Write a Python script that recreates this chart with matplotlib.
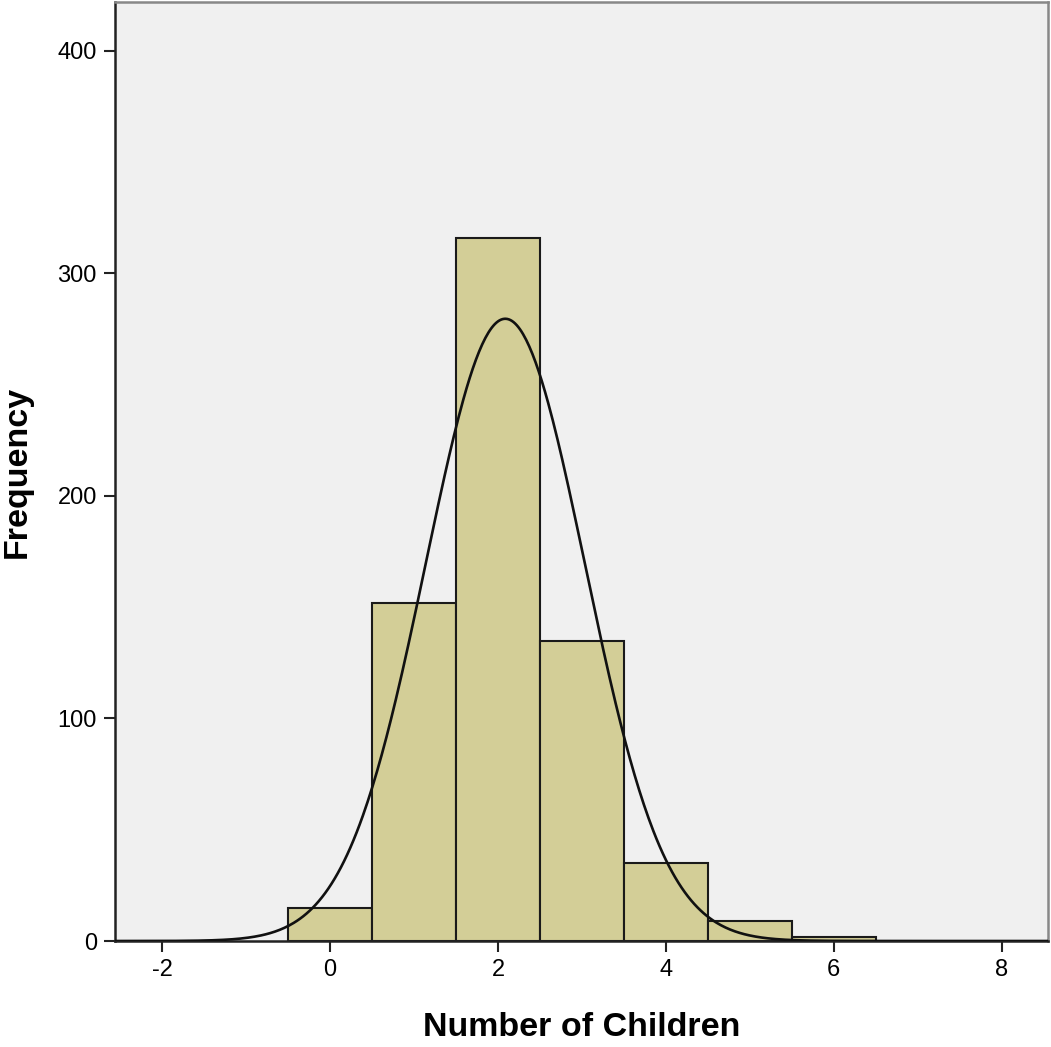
import numpy as np
import matplotlib
matplotlib.use("Agg")
import matplotlib.pyplot as plt

plt.rcParams['font.family'] = ['Liberation Sans', 'DejaVu Sans']
plt.rcParams['axes.unicode_minus'] = False

# Histogram data: number of children (bin centres) and counts
children = [0, 1, 2, 3, 4, 5, 6]
counts = [15, 152, 316, 135, 35, 9, 2]

x_ticks = [-2, 0, 2, 4, 6, 8]
y_ticks = [0, 100, 200, 300, 400]

# normal curve fitted from the histogram
vals = np.repeat(children, counts)
n = len(vals)
mu = vals.mean()
sd = vals.std(ddof=1)

fig = plt.figure(figsize=(10.51, 10.47), dpi=100)
ax = fig.add_axes([115 / 1051, 106 / 1047, 933 / 1051, 939 / 1047])
ax.set_facecolor('#f0f0f0')

ax.bar(children, counts, width=1.0, color='#d3ce97', edgecolor='#1a1a1a', linewidth=1.5, zorder=2)

xs = np.linspace(-2.6, 8.6, 600)
ys = n * np.exp(-0.5 * ((xs - mu) / sd) ** 2) / (sd * np.sqrt(2 * np.pi))
ax.plot(xs, ys, color='#111111', linewidth=1.9, zorder=3)

ax.set_xlim(-2.56, 8.55)
ax.set_ylim(0, 422)
ax.set_xticks(x_ticks)
ax.set_yticks(y_ticks)
ax.tick_params(direction='out', length=8, width=1.5, labelsize=17, pad=5, color='#222222')

for s in ['left', 'bottom']:
    ax.spines[s].set_color('#222222')
    ax.spines[s].set_linewidth(1.8)
for s in ['top', 'right']:
    ax.spines[s].set_color('#888888')
    ax.spines[s].set_linewidth(1.8)

ax.set_xlabel('Number of Children', fontsize=24.5, fontweight='bold', labelpad=22)
ax.set_ylabel('Frequency', fontsize=24.5, fontweight='bold', labelpad=18)

plt.savefig('out.png', dpi=100)
